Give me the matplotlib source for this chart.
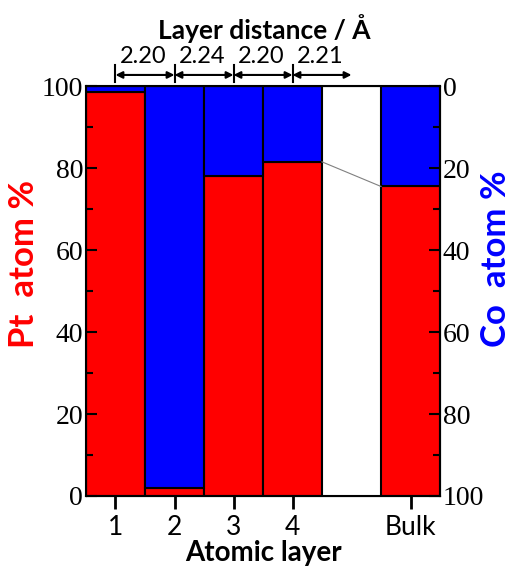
import numpy as np
import matplotlib.pyplot as plt

# composition per atomic layer (Pt %, Co = 100 - Pt); empty slot before bulk
layers = ['1', '2', '3', '4', '', 'Bulk']
pt_pct = [98.5, 2.0, 78.0, 81.5, np.nan, 75.5]
distances = ['2.20', '2.24', '2.20', '2.21']

pt_pct = np.array(pt_pct)
co_pct = 100 - pt_pct
x = np.arange(len(layers))
has_bar = ~np.isnan(pt_pct)

fig = plt.figure(figsize=(5.19, 5.75), dpi=100)
ax = fig.add_axes([0.1657, 0.1374, 0.6821, 0.7130])

ax.bar(x[has_bar], pt_pct[has_bar], width=1.0, color='#ff0000',
       edgecolor='black', linewidth=1.5)
ax.bar(x[has_bar], co_pct[has_bar], bottom=pt_pct[has_bar], width=1.0,
       color='#0000ff', edgecolor='black', linewidth=1.5)

# thin grey connector from layer 4 to bulk
ax.plot([x[3] + 0.5, x[5] - 0.5], [pt_pct[3], pt_pct[5]], color='grey', lw=0.8)

ax.set_xlim(-0.5, len(layers) - 0.5)
ax.set_ylim(0, 100)
ax.set_yticks(np.arange(0, 101, 20))
ax.set_yticks(np.arange(10, 100, 20), minor=True)
tick_ids = [i for i, l in enumerate(layers) if l]
ax.set_xticks(x[tick_ids])
ax.set_xticklabels([layers[i] for i in tick_ids], fontfamily='Lato', fontsize=19)
ax.tick_params(axis='x', direction='out', length=9, width=2, pad=5)
ax.tick_params(axis='y', which='major', direction='in', length=8, width=1.5, pad=2)
ax.tick_params(axis='y', which='minor', direction='in', length=5, width=1.5)
for lab in ax.get_yticklabels():
    lab.set_fontfamily('Liberation Serif')
    lab.set_fontsize(20)
for s in ax.spines.values():
    s.set_linewidth(1.5)

ax.set_ylabel('Pt  atom %', color='#ff0000', fontsize=25, fontweight='bold',
              fontfamily='Lato')
ax.yaxis.set_label_coords(-0.13, 0.565)
ax.set_xlabel('Atomic layer', fontsize=20, fontweight='bold', fontfamily='Lato',
              labelpad=0)

ax2 = ax.twinx()
ax2.set_ylim(100, 0)
ax2.set_yticks(np.arange(0, 101, 20))
ax2.set_yticks(np.arange(10, 100, 20), minor=True)
ax2.tick_params(axis='y', which='major', direction='in', length=8, width=1.5, pad=2)
ax2.tick_params(axis='y', which='minor', direction='in', length=5, width=1.5)
for lab in ax2.get_yticklabels():
    lab.set_fontfamily('Liberation Serif')
    lab.set_fontsize(20)
ax2.set_ylabel('Co  atom %', color='#0000ff', fontsize=25, fontweight='bold',
               fontfamily='Lato')
ax2.yaxis.set_label_coords(1.112, 0.58)

# layer distance arrows above the plot
for i, d in enumerate(distances):
    ax.annotate('', xy=(x[i + 1], 102.7), xytext=(x[i], 102.7),
                arrowprops=dict(arrowstyle='<|-|>', color='black', lw=1.5,
                                mutation_scale=10, shrinkA=0, shrinkB=0),
                annotation_clip=False)
    ax.plot([x[i], x[i]], [101, 105.2], color='black', lw=1.5, clip_on=False)
    ax.text(x[i] + 0.47, 104.6, d, ha='center', va='bottom', fontsize=17,
            fontfamily='Lato')

fig.text(0.51, 0.951, 'Layer distance / Å', ha='center', va='center',
         fontsize=19, fontweight='bold', fontfamily='Lato')

fig.savefig('out.png', dpi=100)
